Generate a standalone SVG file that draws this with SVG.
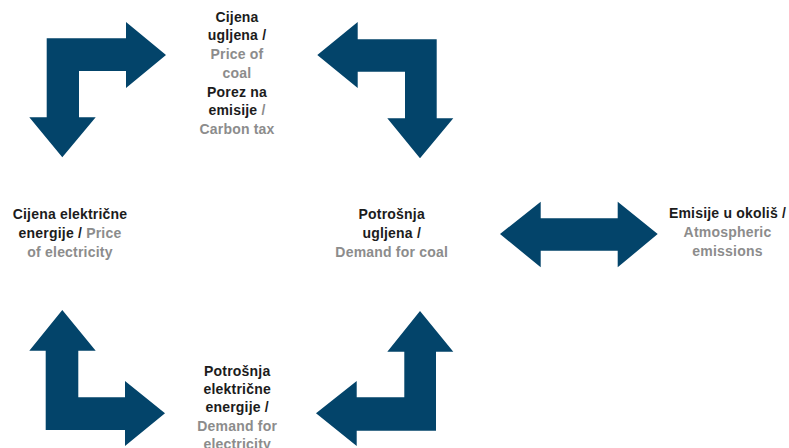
<svg xmlns="http://www.w3.org/2000/svg" width="789" height="448" viewBox="0 0 789 448">
<style>
  .arrow { fill: #03446a; }
  text { font-family: "Liberation Sans", Arial, sans-serif; font-size: 14px; font-weight: bold; letter-spacing: 0.2px; text-anchor: middle; fill: #1c1c1c; }
  .g { fill: #8c8c8c; }
</style>
<rect width="789" height="448" fill="#ffffff"/>
<g id="connectors">
  <polygon class="arrow" points="46.7,38.3 126,38.3 126,22 166,55 126,88 126,71 79,71 79,117.3 95.7,117.3 62.3,157.3 29.3,117.3 46.7,117.3"/>
  <polygon class="arrow" points="317.3,55 357.7,22 357.7,39.3 436.7,39.3 436.7,118.3 453.3,118.3 420,158.3 387.3,118.3 405,118.3 405,71.7 357.7,71.7 357.7,88"/>
  <polygon class="arrow" points="500,234 540.7,201.7 540.7,218.3 617.7,218.3 617.7,201.7 657.7,234 617.7,267.3 617.7,250.7 540.7,250.7 540.7,267.3"/>
  <polygon class="arrow" points="62.3,310 95.7,350.7 78.3,350.7 78.3,397.3 125,397.3 125,381 165,413.3 125,446 125,430 45.7,430 45.7,350.7 29.3,350.7"/>
  <polygon class="arrow" points="420,311 453.3,351.7 436,351.7 436,430.7 356.7,430.7 356.7,446 316,413.3 356.7,381 356.7,397.3 404.3,397.3 404.3,351.7 387.3,351.7"/>
</g>
<g id="node-price-coal">
  <text x="237" y="21.7">Cijena</text>
  <text x="237" y="40.4">ugljena /</text>
  <text x="237" y="59.1" class="g">Price of</text>
  <text x="237" y="77.8" class="g">coal</text>
  <text x="237" y="96.5">Porez na</text>
  <text x="237" y="115.2">emisije <tspan class="g">/</tspan></text>
  <text x="237" y="133.9" class="g">Carbon tax</text>
</g>
<g id="node-price-electricity">
  <text x="70" y="218.5">Cijena električne</text>
  <text x="70" y="237.5">energije / <tspan class="g">Price</tspan></text>
  <text x="70" y="256.5" class="g">of electricity</text>
</g>
<g id="node-demand-coal">
  <text x="391.7" y="218.5">Potrošnja</text>
  <text x="391.7" y="237.5">ugljena /</text>
  <text x="391.7" y="256.5" class="g">Demand for coal</text>
</g>
<g id="node-emissions">
  <text x="727.5" y="218">Emisije u okoliš /</text>
  <text x="727.5" y="237" class="g">Atmospheric</text>
  <text x="727.5" y="256" class="g">emissions</text>
</g>
<g id="node-demand-electricity">
  <text x="237.2" y="375.7">Potrošnja</text>
  <text x="237.2" y="394.2">električne</text>
  <text x="237.2" y="412.4">energije /</text>
  <text x="237.2" y="430.6" class="g">Demand for</text>
  <text x="237.2" y="448.8" class="g">electricity</text>
</g>
</svg>
